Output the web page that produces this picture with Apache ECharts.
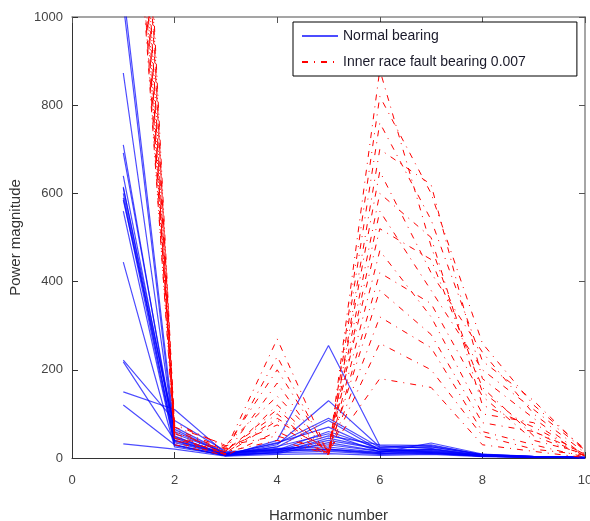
<!DOCTYPE html>
<html><head><meta charset="utf-8">
<script src="https://cdn.jsdelivr.net/npm/echarts@6/dist/echarts.min.js"></script>
<style>html,body{margin:0;padding:0;background:#fff}#c{width:590px;height:521px}</style>
</head><body><div id="c"></div>
<script>
const harmonics = [1,2,3,4,5,6,7,8,9,10];
const xTicks = [0,2,4,6,8,10];
const yTicks = [0,200,400,600,800,1000];
const normalName = 'Normal bearing';
const faultName = 'Inner race fault bearing 0.007';

const normal = [
  [1060, 60, 10, 15, 20, 12, 10, 5, 3, 1],
  [1030, 45, 8, 20, 30, 15, 12, 4, 2, 1],
  [873, 50, 6, 12, 45, 20, 15, 5, 2, 1],
  [710, 40, 10, 25, 85, 18, 20, 6, 3, 1],
  [692, 55, 12, 18, 60, 22, 25, 8, 3, 2],
  [615, 35, 7, 30, 130, 25, 30, 7, 2, 1],
  [612, 65, 9, 10, 35, 15, 18, 5, 3, 1],
  [590, 30, 5, 40, 255, 28, 22, 6, 2, 1],
  [585, 70, 11, 22, 25, 12, 34, 9, 4, 2],
  [444, 25, 6, 14, 40, 20, 14, 4, 2, 1],
  [222, 85, 15, 16, 50, 30, 28, 8, 3, 1],
  [218, 40, 8, 35, 70, 18, 12, 5, 2, 1],
  [150, 110, 10, 20, 20, 10, 16, 6, 3, 1],
  [120, 30, 5, 12, 15, 8, 10, 4, 2, 1],
  [32, 20, 4, 8, 10, 6, 8, 3, 1, 1],
  [600, 38, 7, 26, 55, 14, 20, 5, 2, 1],
  [640, 48, 9, 33, 90, 24, 26, 7, 3, 1],
  [560, 28, 6, 18, 18, 10, 12, 4, 2, 1]
];

const fault = [
  [2400, 60, 20, 270, 10, 880, 480, 150, 60, 10],
  [2300, 50, 15, 230, 8, 820, 600, 260, 120, 20],
  [2200, 80, 25, 200, 15, 760, 540, 220, 130, 15],
  [2100, 40, 10, 170, 5, 700, 620, 180, 90, 5],
  [2050, 70, 30, 140, 20, 650, 420, 240, 100, 12],
  [1950, 35, 8, 120, 12, 600, 500, 120, 70, 8],
  [1900, 55, 18, 100, 6, 560, 380, 200, 110, 18],
  [1850, 45, 12, 90, 18, 520, 450, 160, 50, 6],
  [1800, 65, 22, 75, 10, 470, 320, 100, 80, 3],
  [1750, 30, 6, 60, 7, 420, 350, 140, 40, 10],
  [1720, 75, 28, 50, 14, 380, 280, 80, 60, 4],
  [1700, 42, 14, 40, 9, 320, 250, 60, 30, 2],
  [2000, 58, 16, 110, 11, 260, 200, 50, 20, 7],
  [2350, 48, 9, 85, 16, 180, 160, 30, 15, 1]
];

const font = '"Liberation Sans", Arial, sans-serif';
const series = [];
normal.forEach(v => series.push({
  name: normalName, type: 'line', xAxisIndex: 0, yAxisIndex: 0,
  data: harmonics.map((h, i) => [h, v[i]]),
  symbol: 'none', silent: true, animation: false,
  lineStyle: { color: 'rgba(0,0,255,0.7)', width: 1.2 },
  itemStyle: { color: '#0000ff' }
}));
fault.forEach(v => series.push({
  name: faultName, type: 'line', xAxisIndex: 0, yAxisIndex: 0,
  data: harmonics.map((h, i) => [h, v[i]]),
  symbol: 'none', silent: true, animation: false,
  lineStyle: { color: '#ff0000', width: 1, type: [6, 6, 1, 6] },
  itemStyle: { color: '#ff0000' }
}));

const axisCommon = {
  type: 'value', min: 0, splitLine: { show: false }, minorTick: { show: false }
};
const chart = echarts.init(document.getElementById('c'), null, { renderer: 'canvas' });
chart.setOption({
  animation: false,
  backgroundColor: '#fff',
  grid: { left: 72, right: 5, top: 17, bottom: 63, containLabel: false, outerBoundsMode: 'none' },
  legend: {
    data: [normalName, faultName],
    orient: 'vertical', left: 293, top: 22,
    backgroundColor: '#fff', borderColor: '#000', borderWidth: 1,
    padding: [7, 51, 7, 8], itemGap: 12, itemWidth: 36, itemHeight: 10,
    itemStyle: { color: 'transparent', borderWidth: 0, borderColor: 'transparent' },
    textStyle: { fontFamily: font, fontSize: 14, color: '#1a1a2a' },
    selectedMode: false
  },
  xAxis: [
    Object.assign({}, axisCommon, {
      max: 10, interval: 2, position: 'bottom',
      name: 'Harmonic number', nameLocation: 'middle', nameGap: 50,
      nameTextStyle: { fontFamily: font, fontSize: 15, color: '#333' },
      axisLine: { show: true, onZero: false, lineStyle: { color: '#333', width: 1 } },
      axisTick: { show: true, inside: true, length: 6, lineStyle: { color: '#333' } },
      axisLabel: { fontFamily: font, fontSize: 13, color: '#444', margin: 16,
        formatter: v => xTicks.includes(v) ? String(v) : '' }
    }),
    Object.assign({}, axisCommon, {
      max: 10, interval: 2, position: 'top',
      axisLine: { show: true, onZero: false, lineStyle: { color: '#888', width: 1.5 } },
      axisTick: { show: true, inside: true, length: 6, lineStyle: { color: '#555' } },
      axisLabel: { show: false }
    })
  ],
  yAxis: [
    Object.assign({}, axisCommon, {
      max: 1000, interval: 200, position: 'left',
      name: 'Power magnitude', nameLocation: 'middle', nameGap: 48, nameRotate: 90,
      nameTextStyle: { fontFamily: font, fontSize: 15, color: '#333' },
      axisLine: { show: true, onZero: false, lineStyle: { color: '#333', width: 1 } },
      axisTick: { show: true, inside: true, length: 6, lineStyle: { color: '#333' } },
      axisLabel: { fontFamily: font, fontSize: 13, color: '#444', margin: 9,
        formatter: v => yTicks.includes(v) ? String(v) : '' }
    }),
    Object.assign({}, axisCommon, {
      max: 1000, interval: 200, position: 'right',
      axisLine: { show: true, onZero: false, lineStyle: { color: '#888', width: 1.5 } },
      axisTick: { show: true, inside: true, length: 6, lineStyle: { color: '#555' } },
      axisLabel: { show: false }
    })
  ],
  series: series
});
</script>
</body></html>
